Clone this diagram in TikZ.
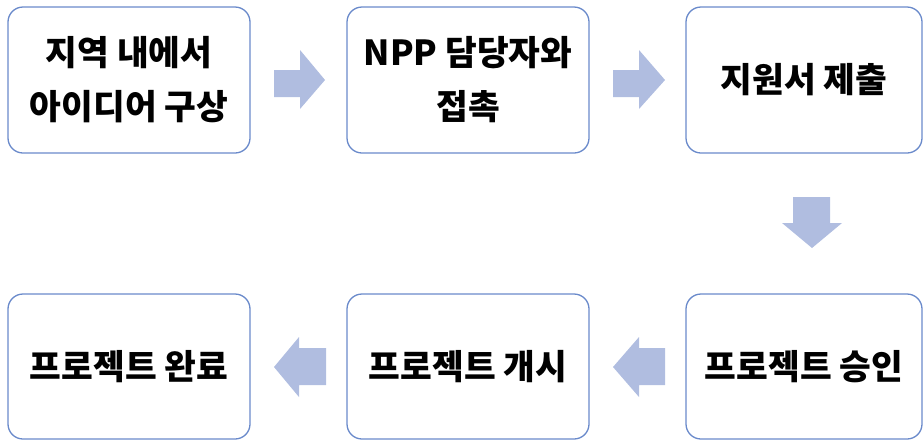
\documentclass[tikz,border=0pt]{standalone}
\usepackage{fontspec}
\newfontfamily\kr{Noto Sans CJK KR}
\definecolor{boxline}{HTML}{6A8ACB}
\definecolor{arrowfill}{HTML}{B0BDE0}
\begin{document}
\begin{tikzpicture}[x=1pt,y=-1pt,
  stepbox/.style={draw=boxline, line width=1.3pt, rounded corners=15pt, fill=white,
    minimum width=242pt, minimum height=146pt, align=center, inner sep=0pt,
    font=\kr\bfseries\fontsize{34.5}{54}\selectfont},
  blockarrow/.style={fill=arrowfill, draw=none}]
\useasboundingbox (0,0) rectangle (923,440);
\node[stepbox] (b1) at (129,80) {지역 내에서\\아이디어 구상};
\node[stepbox] (b2) at (468,80) {NPP 담당자와\\접촉};
\node[stepbox, minimum width=236pt] (b3) at (804,80) {지원서 제출};
\node[stepbox, minimum width=236pt, minimum height=145pt] (b4) at (804,366.5) {프로젝트 승인};
\node[stepbox, minimum height=145pt] (b5) at (468,366.5) {프로젝트 개시};
\node[stepbox, minimum height=145pt] (b6) at (129,366.5) {프로젝트 완료};
% right arrows
\fill[blockarrow] (274,70) -- (300,70) -- (300,50) -- (325,80) -- (300,109) -- (300,97) -- (274,97) -- cycle;
\fill[blockarrow] (613,70) -- (639,70) -- (639,50) -- (665,80) -- (639,109) -- (639,97) -- (613,97) -- cycle;
% down arrow
\fill[blockarrow] (793,197) -- (830,197) -- (830,223) -- (842,223) -- (812,248) -- (782,223) -- (793,223) -- cycle;
% left arrows
\fill[blockarrow] (665,348) -- (639,348) -- (639,337) -- (613,367) -- (639,397) -- (639,385) -- (665,385) -- cycle;
\fill[blockarrow] (326,348) -- (299,348) -- (299,337) -- (274,367) -- (299,397) -- (299,385) -- (326,385) -- cycle;
\end{tikzpicture}
\end{document}
